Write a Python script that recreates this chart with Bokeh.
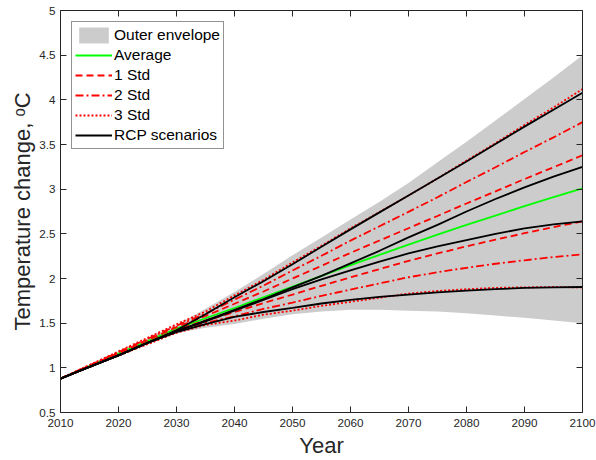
from bokeh.plotting import figure
from bokeh.models import LinearAxis, FixedTicker, Legend, LegendItem, Range1d, Title
from bokeh.embed import file_html
from bokeh.resources import INLINE

# ---- data ----
years = [2010, 2015, 2020, 2025, 2030, 2035, 2040, 2045, 2050, 2055,
         2060, 2065, 2070, 2075, 2080, 2085, 2090, 2095, 2100]
env_upper = [0.88, 1.03, 1.18, 1.32, 1.48, 1.66, 1.85, 2.05, 2.26, 2.46,
             2.66, 2.86, 3.07, 3.30, 3.53, 3.77, 4.01, 4.25, 4.50]
env_lower = [0.88, 1.01, 1.14, 1.27, 1.39, 1.45, 1.49, 1.55, 1.60, 1.63,
             1.65, 1.65, 1.64, 1.63, 1.61, 1.585, 1.56, 1.53, 1.50]
average = [0.88, 1.02, 1.16, 1.30, 1.44, 1.555, 1.67, 1.79, 1.91, 2.03,
           2.15, 2.265, 2.38, 2.49, 2.60, 2.705, 2.81, 2.91, 3.01]
std_dev = [0.0, 0.004, 0.008, 0.012, 0.016, 0.025, 0.047, 0.065, 0.09, 0.112,
           0.137, 0.16, 0.183, 0.21, 0.24, 0.27, 0.303, 0.335, 0.37]
rcp85 = [0.88, 1.01, 1.14, 1.28, 1.42, 1.60, 1.79, 1.97, 2.16, 2.355,
         2.55, 2.74, 2.93, 3.12, 3.31, 3.505, 3.70, 3.89, 4.08]
rcp60 = [0.88, 1.01, 1.14, 1.28, 1.41, 1.53, 1.65, 1.77, 1.90, 2.03,
         2.17, 2.31, 2.46, 2.60, 2.75, 2.89, 3.02, 3.14, 3.25]
rcp45 = [0.88, 1.01, 1.14, 1.28, 1.41, 1.52, 1.64, 1.76, 1.88, 1.99,
         2.09, 2.19, 2.28, 2.36, 2.43, 2.50, 2.56, 2.605, 2.64]
rcp26 = [0.88, 1.01, 1.14, 1.28, 1.40, 1.49, 1.57, 1.625, 1.67, 1.72,
         1.76, 1.795, 1.82, 1.845, 1.865, 1.88, 1.895, 1.90, 1.905]

x_ticks = [2010, 2020, 2030, 2040, 2050, 2060, 2070, 2080, 2090, 2100]
x_labels = ["2010", "2020", "2030", "2040", "2050", "2060", "2070", "2080", "2090", "2100"]
y_ticks = [0.5, 1, 1.5, 2, 2.5, 3, 3.5, 4, 4.5, 5]
y_labels = ["0.5", "1", "1.5", "2", "2.5", "3", "3.5", "4", "4.5", "5"]

FONT = "Liberation Sans"
AX = "#262626"

p = figure(width=596, height=460, output_backend="svg", toolbar_location=None,
           x_range=Range1d(2010, 2100), y_range=Range1d(0.5, 5),
           min_border_left=60, min_border_right=14, min_border_top=10,
           min_border_bottom=48, x_axis_location=None, y_axis_location=None)
p.outline_line_color = None
p.xgrid.visible = False
p.ygrid.visible = False
p.background_fill_color = "white"
p.border_fill_color = "white"


def style_axis(ax, ticks, labels, show_labels):
    ax.ticker = FixedTicker(ticks=ticks)
    ax.major_label_overrides = {t: l for t, l in zip(ticks, labels)}
    ax.minor_tick_line_color = None
    ax.major_tick_in = 6
    ax.major_tick_out = 0
    ax.axis_line_color = AX
    ax.major_tick_line_color = AX
    ax.axis_line_width = 1
    if show_labels:
        ax.major_label_text_font = FONT
        ax.major_label_text_font_size = "11.7px"
        ax.major_label_text_color = AX
    else:
        ax.major_label_text_font_size = "0px"
        ax.major_label_text_color = None
        ax.major_label_standoff = 0


xb = LinearAxis()
style_axis(xb, x_ticks, x_labels, True)
xb.major_label_standoff = 6
p.add_layout(xb, "below")

yl = LinearAxis()
style_axis(yl, y_ticks, y_labels, True)
yl.major_label_standoff = 5
p.add_layout(yl, "left")

xt = LinearAxis()
style_axis(xt, x_ticks, x_labels, False)
p.add_layout(xt, "above")

yr = LinearAxis()
style_axis(yr, y_ticks, y_labels, False)
p.add_layout(yr, "right")

# axis titles
p.add_layout(Title(text="Year", align="center", text_font=FONT,
                   text_font_size="22px", text_font_style="normal",
                   text_color=AX, standoff=3), "below")
p.add_layout(Title(text="Temperature change, \u1d52C", align="center",
                   text_font=FONT, text_font_size="22px",
                   text_font_style="normal", text_color=AX, standoff=4), "left")

# ---- glyphs ----
env = p.varea(x=years, y1=env_lower, y2=env_upper, fill_color="#cccccc")

avg_r = p.line(years, average, line_color="#00ff00", line_width=1.8)

std_styles = [(1, "7 4"), (2, "8 3 2 3"), (3, "2 2")]
std_rend = []
for k, dash in std_styles:
    up = [a + k * s for a, s in zip(average, std_dev)]
    lo = [a - k * s for a, s in zip(average, std_dev)]
    r1 = p.line(years, up, line_color="#ff0000", line_width=1.8, line_dash=dash)
    p.line(years, lo, line_color="#ff0000", line_width=1.8, line_dash=dash)
    std_rend.append(r1)

rcp_rend = []
for series in (rcp85, rcp60, rcp45, rcp26):
    rcp_rend.append(p.line(years, series, line_color="black", line_width=1.8))

legend = Legend(items=[
    LegendItem(label="Outer envelope", renderers=[env]),
    LegendItem(label="Average", renderers=[avg_r]),
    LegendItem(label="1 Std", renderers=[std_rend[0]]),
    LegendItem(label="2 Std", renderers=[std_rend[1]]),
    LegendItem(label="3 Std", renderers=[std_rend[2]]),
    LegendItem(label="RCP scenarios", renderers=[rcp_rend[0]]),
], location="top_left")
legend.margin = 11
legend.padding = 3
legend.spacing = 0
legend.label_height = 20
legend.glyph_height = 20
legend.glyph_width = 37
legend.label_standoff = 2
legend.label_text_font = FONT
legend.label_text_font_size = "15.5px"
legend.label_text_color = "black"
legend.border_line_color = AX
legend.border_line_width = 1
legend.background_fill_color = "white"
legend.background_fill_alpha = 1.0
p.add_layout(legend)

open("out.html", "w").write(file_html(p, INLINE))
